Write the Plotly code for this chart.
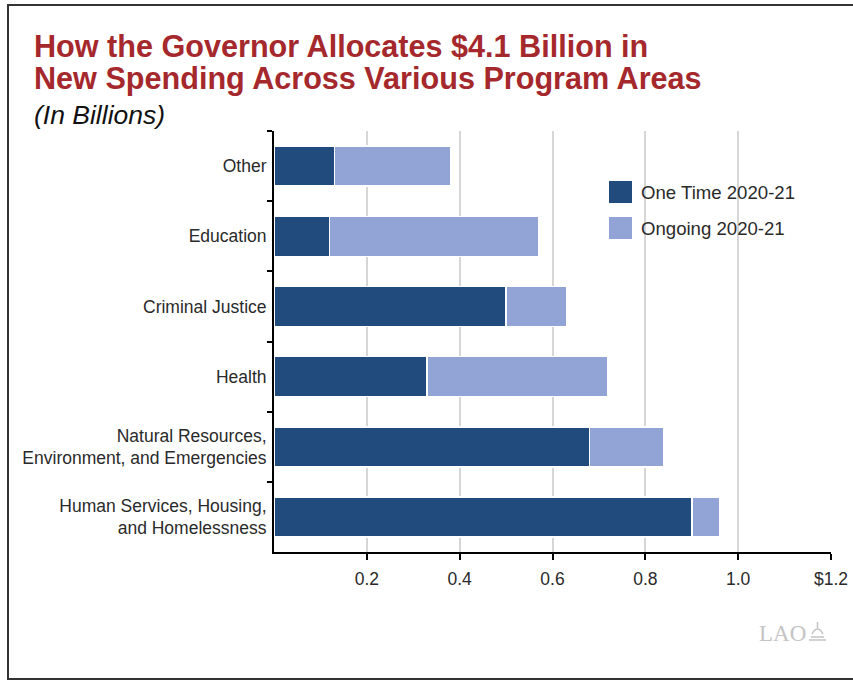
import plotly.graph_objects as go

# Program areas, listed top to bottom
categories = [
    "Other",
    "Education",
    "Criminal Justice",
    "Health",
    "Natural Resources,<br>Environment, and Emergencies",
    "Human Services, Housing,<br>and Homelessness",
]
one_time = [0.13, 0.12, 0.50, 0.33, 0.68, 0.90]
ongoing = [0.25, 0.45, 0.13, 0.39, 0.16, 0.06]

series_names = ["One Time 2020-21", "Ongoing 2020-21"]
tick_vals = [0.2, 0.4, 0.6, 0.8, 1.0, 1.2]
tick_text = ["0.2", "0.4", "0.6", "0.8", "1.0", "$1.2"]
title_lines = ["How the Governor Allocates $4.1 Billion in",
               "New Spending Across Various Program Areas"]

DARK = "#214b7c"
LIGHT = "#91a4d5"
TITLE_RED = "#a5282c"
FONT = "Liberation Sans, Arial, Helvetica, sans-serif"

W, H = 853, 680
ML, MR, MT, MB = 274, 22, 131, 128
PW = W - ML - MR
PH = H - MT - MB


def px(x):
    return (x - ML) / PW


def py(y):
    return (H - MB - y) / PH


fig = go.Figure()
for name, vals, color in zip(series_names, [one_time, ongoing], [DARK, LIGHT]):
    fig.add_trace(go.Bar(
        y=categories, x=vals, name=name, orientation="h",
        marker=dict(color=color, line=dict(color="white", width=1.5)),
        showlegend=False,
    ))

fig.update_layout(
    width=W, height=H,
    margin=dict(l=ML, r=MR, t=MT, b=MB, autoexpand=False),
    barmode="stack", bargap=0.43,
    paper_bgcolor="white", plot_bgcolor="white",
    font=dict(family=FONT, size=17, color="#2a2a2a"),
)
fig.update_xaxes(
    range=[0, 1.2], tickvals=tick_vals, ticktext=tick_text,
    showgrid=True, gridcolor="#d6d6d6", gridwidth=1.5,
    showline=True, linecolor="black", linewidth=2,
    ticks="outside", ticklen=6, tickwidth=2, tickcolor="black",
    ticklabelstandoff=4, zeroline=False, automargin=False,
    tickfont=dict(size=17.5, color="#2a2a2a"),
)
fig.update_yaxes(
    autorange="reversed", tickson="boundaries",
    showline=True, linecolor="black", linewidth=2,
    ticks="outside", ticklen=5, tickwidth=2, tickcolor="black",
    showgrid=False, ticklabelstandoff=2, automargin=False,
    tickfont=dict(size=17.5, color="#2a2a2a"),
)

annotations = []
# two-line heading, one annotation per line for tight leading
for i, line in enumerate(title_lines):
    annotations.append(dict(
        text=line, x=px(32), y=py(46 + 32 * i), xref="paper", yref="paper",
        xanchor="left", yanchor="middle", showarrow=False,
        font=dict(family=FONT, size=30.6, color=TITLE_RED, weight="bold")))
annotations.append(dict(
    text="<i>(In Billions)</i>", x=px(32), y=py(115), xref="paper", yref="paper",
    xanchor="left", yanchor="middle", showarrow=False,
    font=dict(family=FONT, size=26.5, color="#111111")))
annotations.append(dict(
    text="LAO", x=px(808), y=py(633), xref="paper", yref="paper",
    xanchor="right", yanchor="middle", showarrow=False,
    font=dict(family="Liberation Serif, Times New Roman, serif", size=23, color="#c4c4c4")))

shapes = [
    # frame around the whole graphic
    dict(type="rect", xref="paper", yref="paper",
         x0=px(8), x1=px(858), y0=py(679), y1=py(5),
         line=dict(color="#333333", width=2), fillcolor="rgba(0,0,0,0)", layer="below"),
]

# legend swatches and labels
for i, (name, color) in enumerate(zip(series_names, [DARK, LIGHT])):
    cy = 192 + 36 * i
    shapes.append(dict(type="rect", xref="paper", yref="paper",
                       x0=px(609), x1=px(632), y0=py(cy + 11), y1=py(cy - 11),
                       fillcolor=color, line=dict(width=0)))
    annotations.append(dict(text=name, x=px(639), y=py(cy), xref="paper", yref="paper",
                            xanchor="left", yanchor="middle", showarrow=False,
                            font=dict(family=FONT, size=18.6, color="#2a2a2a")))

# small capitol mark beside the LAO wordmark
shapes.append(dict(type="path", xref="paper", yref="paper",
                   path=(f"M {px(809)},{py(640)} L {px(826)},{py(640)} "
                         f"M {px(811)},{py(637)} L {px(824)},{py(637)} "
                         f"M {px(812)},{py(634)} Q {px(817.5)},{py(624)} {px(823)},{py(634)} "
                         f"M {px(817.5)},{py(628)} L {px(817.5)},{py(622)}"),
                   line=dict(color="#c4c4c4", width=1.5)))

fig.update_layout(annotations=annotations, shapes=shapes)

fig.write_html("out.html")
